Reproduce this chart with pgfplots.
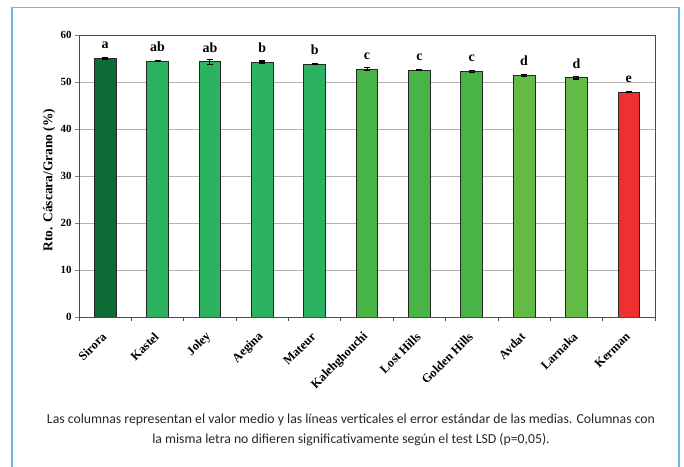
\documentclass[border=0pt]{standalone}
\usepackage{fontspec}
\setmainfont{Liberation Serif}
\newfontfamily\capfont{Carlito}
\usepackage{pgfplots}
\pgfplotsset{compat=1.18}

\definecolor{frameblue}{HTML}{6DB6E6}
\definecolor{cdark}{HTML}{0E6B36}
\definecolor{cmid}{HTML}{2BB35F}
\definecolor{cgreen}{HTML}{48B448}
\definecolor{clight}{HTML}{63BB45}
\definecolor{cred}{HTML}{EE3030}

\pgfplotsset{mybar/.style={fill=#1, draw=black!85, line width=0.8bp}}

\begin{document}
\begin{tikzpicture}
\useasboundingbox (0,0) rectangle (684bp,467bp);
% light blue frame around the figure
\draw[frameblue, line width=1.6bp] (12bp,-5bp) -- (12bp,459.5bp) -- (678.7bp,459.5bp) -- (678.7bp,-5bp);

\begin{axis}[
  at={(79bp,150bp)}, anchor=south west,
  scale only axis, width=576bp, height=282bp,
  ybar, bar shift=0pt, bar width=0.415,
  xmin=-0.5, xmax=10.5, ymin=0, ymax=60,
  ytick={0,10,...,60},
  % names at the category centres, tick marks at the boundaries
  xtick={0,1,2,3,4,5,6,7,8,9,10},
  xticklabels={Sirora,Kastel,Joley,Aegina,Mateur,Kalehghouchi,Lost Hills,Golden Hills,Avdat,Larnaka,Kerman},
  major x tick style={opacity=0},
  minor xtick={-0.5,0.5,...,10.5},
  minor tick length=4bp,
  minor x tick style={draw=black!70, line width=0.8bp},
  % shifts act in the rotated frame of the label
  xticklabel style={rotate=45, anchor=east, yshift=-9bp, xshift=-6.8bp,
      font=\bfseries\fontsize{12.5}{14}\selectfont},
  tick align=outside, major tick length=4bp,
  xtick pos=bottom, ytick pos=left,
  /pgf/number format/assume math mode=true,
  yticklabel style={font=\bfseries\fontsize{11}{13}\selectfont},
  ymajorgrids, major grid style={draw=black!30, line width=0.6bp},
  axis line style={draw=black!70, line width=0.8bp},
  ylabel={Rto. Cáscara/Grano (\%)},
  every axis y label/.style={at={(axis description cs:-0.052,0.486)}, rotate=90, anchor=center,
    font=\bfseries\fontsize{13.5}{15}\selectfont},
  point meta=explicit symbolic,
  nodes near coords,
  every node near coord/.append style={font=\bfseries\fontsize{14}{16}\selectfont,
    anchor=base, yshift=9.5bp, inner sep=0pt, text=black},
  error bars/y dir=both, error bars/y explicit,
  error bars/error bar style={line width=1bp, black},
  error bars/error mark options={rotate=90, line width=1.2bp, mark size=3bp, black},
]
\addplot[mybar=cdark] table[x=x, y=y, y error=e, meta=l]{
x y e l
0 55.05 0.15 a
};
\addplot[mybar=cmid] table[x=x, y=y, y error=e, meta=l]{
x y e l
1 54.45 0.15 ab
2 54.30 0.50 ab
3 54.25 0.20 b
4 53.75 0.10 b
};
\addplot[mybar=cgreen] table[x=x, y=y, y error=e, meta=l]{
x y e l
5 52.75 0.25 c
6 52.50 0.12 c
7 52.30 0.20 c
};
\addplot[mybar=clight] table[x=x, y=y, y error=e, meta=l]{
x y e l
8 51.40 0.20 d
9 50.90 0.25 d
};
\addplot[mybar=cred] table[x=x, y=y, y error=e, meta=l]{
x y e l
10 47.85 0.15 e
};
\end{axis}

\node[font=\capfont\fontsize{13.8}{20}\selectfont, align=center, text=black!85]
  at (351bp,37bp) {Las columnas representan el valor medio y las líneas verticales el error estándar de las medias. Columnas con\\
  la misma letra no difieren significativamente según el test LSD (p=0,05).};
\end{tikzpicture}
\end{document}
